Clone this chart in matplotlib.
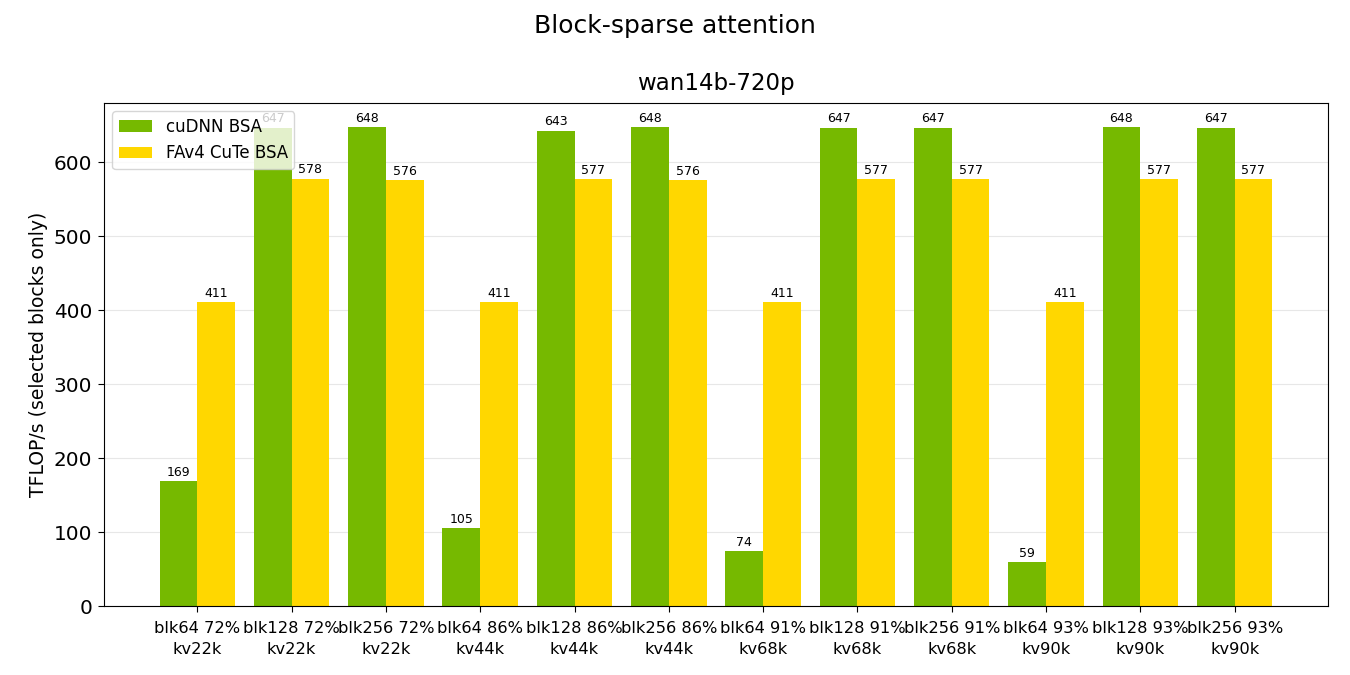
import matplotlib
matplotlib.use("Agg")
import matplotlib.pyplot as plt
import numpy as np

categories = ["blk64 72%\nkv22k", "blk128 72%\nkv22k", "blk256 72%\nkv22k",
              "blk64 86%\nkv44k", "blk128 86%\nkv44k", "blk256 86%\nkv44k",
              "blk64 91%\nkv68k", "blk128 91%\nkv68k", "blk256 91%\nkv68k",
              "blk64 93%\nkv90k", "blk128 93%\nkv90k", "blk256 93%\nkv90k"]
cudnn = [169, 647, 648, 105, 643, 648, 74, 647, 647, 59, 648, 647]
fav4 = [411, 578, 576, 411, 577, 576, 411, 577, 577, 411, 577, 577]

fig = plt.figure(figsize=(13.5, 6.75), dpi=100)
ax = fig.add_axes([0.077, 0.1022, 0.9067, 0.7452])
x = np.arange(len(categories))
w = 0.4
b1 = ax.bar(x - w/2, cudnn, w, color="#76b900", label="cuDNN BSA")
b2 = ax.bar(x + w/2, fav4, w, color="#ffd700", label="FAv4 CuTe BSA")
for bars, vals in ((b1, cudnn), (b2, fav4)):
    for r, v in zip(bars, vals):
        ax.text(r.get_x() + r.get_width()/2, r.get_height() + 3, f"{v}",
                ha="center", va="bottom", fontsize=9)
ax.set_xticks(x)
ax.set_xticklabels(categories, fontsize=11.7, linespacing=1.55)
ax.tick_params(axis="x", length=4.2, pad=6.5)
ax.tick_params(axis="y", labelsize=14.4, length=4.2, pad=4.2)
ax.set_ylabel("TFLOP/s (selected blocks only)", fontsize=13.5)
ax.set_title("wan14b-720p", fontsize=16.5, pad=9.5)
ax.grid(axis="y", alpha=0.3)
ax.set_axisbelow(True)
ax.legend(loc="upper left", fontsize=12)
fig.suptitle("Block-sparse attention", fontsize=18, y=0.98)
fig.savefig("out.png", dpi=100)
